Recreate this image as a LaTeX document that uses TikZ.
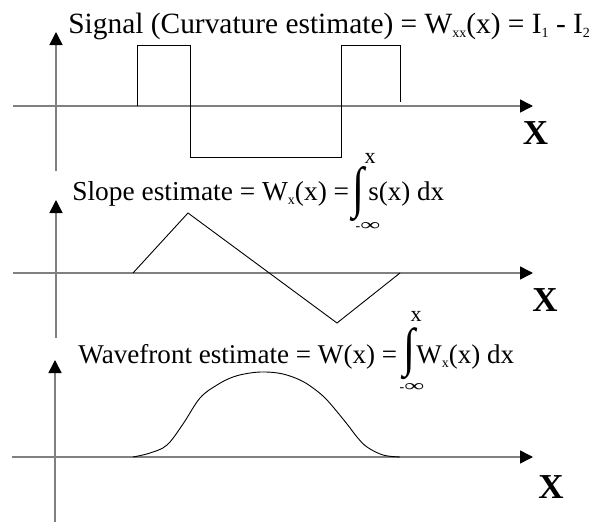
\documentclass[tikz,border=0pt]{standalone}
\usepackage{fontspec}
\setmainfont{Liberation Serif}
\usetikzlibrary{arrows.meta}
\newcommand{\lowsub}[1]{\raisebox{-4pt}{\fontsize{14}{14}\selectfont #1}}
\newcommand{\tallint}[1]{\resizebox*{12pt}{#1}{∫}}
\newcommand{\neginf}{\fontsize{14}{14}\selectfont -\resizebox{20pt}{8pt}{∞}}
\tikzset{every picture/.style={line width=0.75pt}}

\begin{document}
\begin{tikzpicture}[x=1pt,y=1pt,yscale=-1,xscale=1,
	axis/.style={draw=gray,line width=1.5pt,-{Triangle[length=13pt,width=13pt,color=black]}},
	curve/.style={draw=black,line width=0.9pt},
	title/.style={anchor=base west,inner sep=0pt,font=\fontsize{27}{27}\selectfont},
	limit/.style={inner sep=0pt,font=\fontsize{22}{22}\selectfont},
	xlabel/.style={inner sep=0pt,font=\fontsize{35}{35}\selectfont\bfseries}]
	\useasboundingbox (0,0) rectangle (603,522);
	
	%Axes [panel 1]
	\draw [axis] (56,171) -- (56,32) ;
	\draw [axis] (13,106) -- (533,106) ;
	%Square wave
	\draw [curve] (137,106) -- (137,45) -- (190,45) -- (190,157) -- (341,157) -- (341,45) -- (400,45) -- (400,102) ;
	
	%Axes [panel 2]
	\draw [axis] (56,338) -- (56,200) ;
	\draw [axis] (13,273) -- (533,273) ;
	%Triangle wave
	\draw [curve] (133,273) -- (188,213) -- (337,323) -- (400,273) ;
	
	%Axes [panel 3]
	\draw [axis] (55,522) -- (55,360) ;
	\draw [axis] (12,457) -- (533,457) ;
	%Wavefront bump
	\draw [curve] plot [smooth,tension=0.6] coordinates {(133,457) (150,453) (167,445) (183,424) (200,398) (217,385) (233,377) (250,373) (266,372) (283,374) (300,380) (313,388) (327,400) (347,424) (357,437) (367,447) (383,455) (400,457)} ;
	
	% Text Node
	\node (sig) [title,font=\fontsize{29.4}{29}\selectfont] at (68,33) {Signal (Curvature estimate) = W\lowsub{xx}(x) = I\lowsub{1} - I\lowsub{2}};
	% Text Node
	\node (slp) [title,font=\fontsize{27.4}{28}\selectfont] at (72,200) {Slope estimate = W\lowsub{x}(x) =};
	\node (slpint) [inner sep=0pt] at (358,194.5) {\tallint{55pt}};
	\node (slpup) [limit] at (370,158) {x};
	\node (slplo) [inner sep=0pt] at (368,226) {\neginf};
	\node (slpr) [title] at (368,200) {s(x) dx};
	% Text Node
	\node (wav) [title,font=\fontsize{27.1}{28}\selectfont] at (78,363) {Wavefront estimate = W(x) =};
	\node (wavint) [inner sep=0pt] at (409.5,354) {\tallint{52pt}};
	\node (wavup) [limit] at (416,316) {x};
	\node (wavlo) [inner sep=0pt] at (412,387) {\neginf};
	\node (wavr) [title] at (416,363) {W\lowsub{x}(x) dx};
	% Axis labels
	\node (x1) [xlabel] at (535.5,133.5) {X};
	\node (x2) [xlabel] at (545,300) {X};
	\node (x3) [xlabel] at (551,487) {X};
	
\end{tikzpicture}
\end{document}
